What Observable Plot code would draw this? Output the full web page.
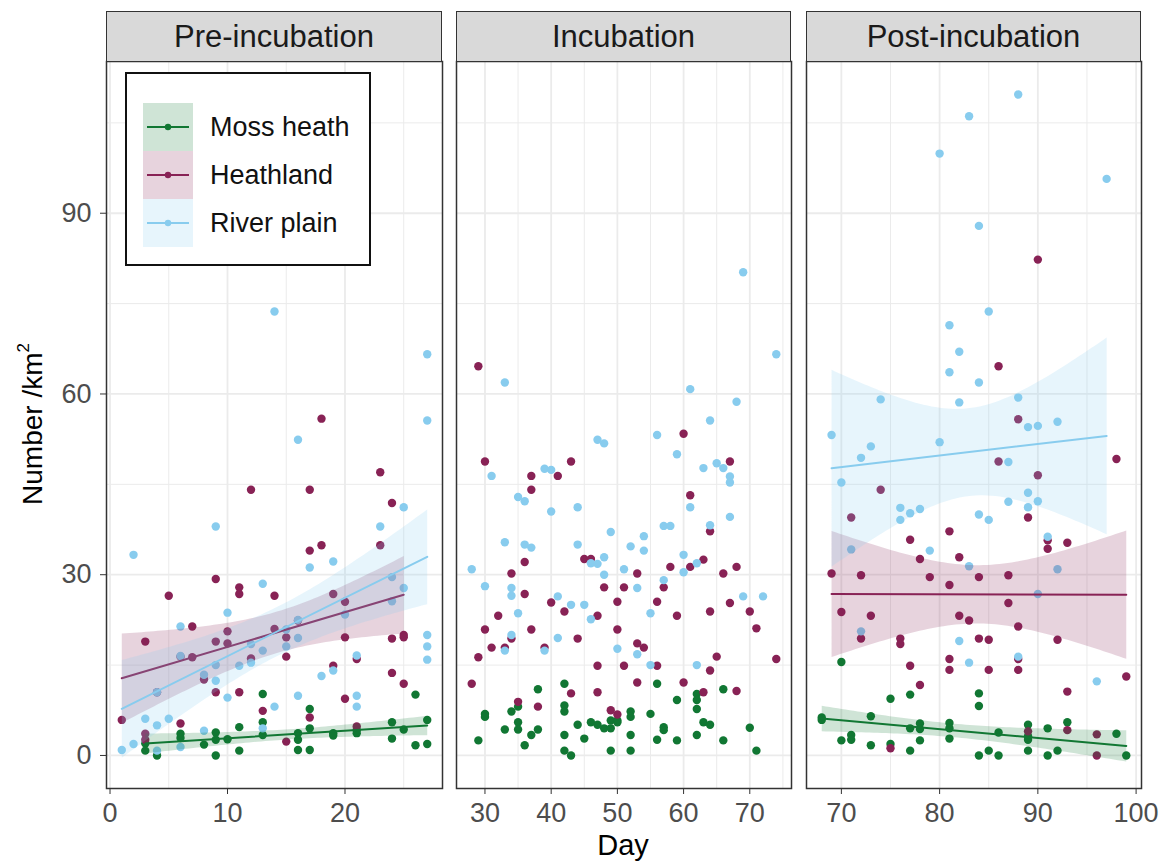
<!DOCTYPE html>
<html>
<head>
<meta charset="utf-8">
<script src="https://cdn.jsdelivr.net/npm/d3@7"></script>
<script src="https://cdn.jsdelivr.net/npm/@observablehq/plot@0.6"></script>
<style>
  body { margin: 0; background: #fff; font-family: "Liberation Sans", Arial, sans-serif; }
  #chart { position: relative; width: 1168px; height: 861px; overflow: hidden; }
  .strip { position: absolute; box-sizing: border-box; top: 11px; height: 51px; background: #d9d9d9;
           border: 1.5px solid #333; font-size: 31px; color: #1a1a1a;
           display: flex; align-items: center; justify-content: center; }
  .panel { position: absolute; top: 60px; }
  .ytitle { position: absolute; left: 33px; top: 424px; transform: translate(-50%, -50%) rotate(-90deg);
            font-size: 28px; color: #000; white-space: nowrap; }
  .ytitle sup { font-size: 17px; vertical-align: 0.75em; line-height: 0; }
  .xtitle { position: absolute; left: 623px; top: 845px; transform: translate(-50%, -50%);
            font-size: 29px; color: #000; }
  .legend { position: absolute; left: 125px; top: 72px; }
</style>
</head>
<body>
<div id="chart"></div>
<script>
// Habitat groups and their colours
const groups = ["Moss heath", "Heathland", "River plain"];
const groupColors = ["#117733", "#882255", "#88CCEE"];

// Survey counts per period and habitat: [day, number per km²]
const preMoss = [[13,10.2],[26,10.1],[17,7.7],[13,5.5],[27,5.9],[11,4.7],[17,4.5],[24,5.5],[21,4.2],[21,3.7],[6,3.6],[6,2.9],[9,3.8],[9,2.6],[10,2.7],[16,3.7],[16,2.6],[19,3.7],[19,3.3],[25,4.3],[3,2.0],[3,0.8],[4,0.0],[8,1.8],[9,0.0],[11,0.8],[16,0.9],[17,0.9],[24,2.8],[26,1.7],[27,1.9],[13,3.4]];
const preHeath = [[18,55.9],[23,47.0],[12,44.1],[17,44.1],[24,41.9],[18,34.9],[17,34.0],[23,34.9],[9,29.3],[5,26.5],[11,27.9],[11,26.8],[14,26.5],[19,26.8],[20,25.5],[7,21.4],[10,20.6],[10,18.6],[9,18.9],[3,18.9],[14,21.0],[15,19.6],[16,22.4],[20,19.6],[24,19.4],[25,20.0],[25,19.6],[7,16.3],[6,16.4],[12,16.1],[15,16.4],[21,16.0],[8,12.6],[19,14.9],[24,13.7],[25,11.9],[4,10.5],[9,10.5],[11,10.5],[20,9.4],[1,5.9],[13,7.4],[17,6.3],[6,5.3],[3,3.6],[15,2.3],[21,4.8],[3,2.6]];
const preRiver = [[14,73.7],[27,66.6],[16,52.4],[27,55.6],[25,41.2],[9,38.0],[23,38.0],[2,33.3],[19,32.2],[17,31.2],[13,28.5],[24,29.6],[24,25.6],[10,23.7],[6,21.4],[25,27.8],[20,23.4],[16,22.5],[15,20.9],[16,19.5],[27,20.0],[27,18.1],[27,15.9],[12,18.5],[13,17.4],[15,18.1],[6,16.5],[21,16.6],[9,15.0],[11,14.9],[12,15.4],[8,13.4],[9,12.4],[18,13.2],[19,14.1],[4,10.5],[10,9.6],[16,9.9],[21,9.9],[21,8.1],[14,8.1],[3,6.1],[5,6.1],[4,5.0],[8,4.1],[13,4.5],[1,0.9],[2,1.9],[4,0.8],[6,1.4]];

const incMoss = [[42,11.9],[38,11.0],[56,11.9],[66,11.0],[62,10.2],[62,9.2],[59,9.2],[62,7.7],[42,8.3],[42,7.3],[30,6.9],[30,6.4],[34,7.3],[35,8.1],[52,7.3],[52,6.4],[55,6.9],[35,5.5],[44,5.1],[46,5.5],[47,5.1],[48,4.5],[49,5.8],[49,4.5],[50,5.8],[50,5.5],[33,4.3],[35,4.3],[37,3.4],[38,4.3],[57,4.7],[57,4.2],[63,5.5],[64,5.1],[70,4.6],[29,2.5],[36,1.7],[42,3.4],[45,2.8],[52,3.4],[56,2.6],[59,2.5],[62,3.4],[66,2.5],[42,0.8],[43,0.0],[49,0.8],[52,0.8],[71,0.8]];
const incHeath = [[29,64.6],[60,53.4],[30,48.8],[43,48.8],[67,48.8],[37,46.4],[41,46.4],[37,44.1],[61,43.2],[64,37.2],[36,32.1],[45,32.6],[46,32.6],[58,31.3],[61,31.3],[63,32.5],[68,31.3],[34,30.2],[53,30.2],[66,30.2],[48,27.9],[51,27.9],[57,27.9],[36,26.8],[40,25.4],[42,23.9],[50,25.5],[56,25.5],[67,25.3],[32,23.2],[47,23.2],[59,23.2],[64,23.9],[70,23.9],[30,20.9],[37,20.9],[50,20.9],[71,21.1],[34,19.4],[44,19.4],[31,17.9],[33,17.9],[39,17.9],[53,18.6],[54,17.9],[29,16.3],[65,16.4],[74,16.0],[47,14.9],[51,14.9],[56,14.9],[64,14.1],[28,11.9],[53,12.1],[60,12.1],[43,10.3],[47,10.5],[63,10.5],[68,10.7],[35,8.9],[38,8.1],[49,7.5],[50,6.8]];
const incRiver = [[69,80.2],[74,66.6],[33,61.9],[61,60.8],[68,58.7],[64,55.6],[56,53.2],[47,52.4],[48,51.8],[59,50.0],[63,47.7],[65,48.5],[66,47.7],[67,46.3],[67,45.3],[31,46.4],[39,47.6],[40,47.4],[35,42.9],[36,42.2],[40,40.5],[44,41.2],[61,41.2],[67,39.6],[57,38.1],[58,38.1],[64,38.2],[49,37.1],[54,36.4],[33,35.4],[36,35.0],[37,34.5],[44,35.0],[52,34.7],[54,34.0],[60,33.3],[48,32.9],[46,31.9],[47,31.8],[62,31.9],[28,30.9],[51,30.9],[60,30.4],[48,30.0],[57,29.1],[30,28.1],[34,27.8],[34,26.5],[35,23.6],[41,26.4],[43,25.0],[45,25.0],[46,22.6],[53,27.8],[55,23.6],[69,26.4],[72,26.4],[34,20.0],[41,19.5],[33,17.4],[39,17.4],[50,17.7],[53,16.8],[55,15.0],[62,15.0]];

const postMoss = [[70,15.5],[75,9.4],[77,10.1],[84,10.3],[84,8.2],[68,6.3],[68,5.9],[73,6.5],[77,4.5],[78,5.3],[78,4.4],[81,5.4],[81,4.5],[86,3.8],[89,5.1],[89,3.2],[89,2.6],[91,4.5],[93,5.5],[98,3.6],[70,2.5],[71,3.4],[71,2.6],[73,1.7],[75,1.9],[77,0.8],[78,2.5],[81,2.8],[84,0.0],[85,0.8],[86,0.0],[89,0.8],[91,0.0],[92,0.8],[99,0.0]];
const postHeath = [[90,82.3],[86,64.6],[88,55.8],[98,49.2],[86,48.8],[90,46.5],[74,44.1],[71,39.5],[89,39.5],[77,35.8],[81,37.2],[78,32.6],[82,32.9],[91,35.7],[91,34.3],[93,35.3],[69,30.2],[72,29.9],[79,29.6],[84,29.6],[87,29.9],[81,28.3],[70,23.8],[73,23.2],[82,23.2],[83,22.4],[87,25.3],[88,21.4],[72,19.4],[76,19.4],[76,18.5],[84,19.4],[85,19.2],[92,19.2],[81,16.0],[81,14.2],[77,14.9],[85,14.2],[88,16.0],[88,14.2],[99,13.1],[78,11.7],[93,10.6],[89,4.0],[93,4.2],[96,3.5],[75,1.2],[96,0.0]];
const postRiver = [[88,109.7],[83,106.1],[80,99.9],[97,95.7],[84,87.9],[85,73.7],[81,71.4],[82,67.0],[81,63.6],[84,61.9],[82,58.6],[88,59.4],[74,59.1],[69,53.2],[80,52.0],[73,51.3],[72,49.4],[87,48.7],[89,54.5],[90,54.7],[92,55.4],[70,45.3],[89,43.6],[87,42.1],[90,42.2],[89,41.2],[76,41.1],[77,40.2],[78,40.9],[76,39.1],[84,40.0],[85,39.1],[79,34.0],[71,34.2],[83,31.4],[91,36.3],[92,30.9],[90,26.8],[72,20.6],[82,19.0],[83,15.4],[88,16.4],[96,12.3]];

// Facet titles and axis tick labels
const periods = ["Pre-incubation", "Incubation", "Post-incubation"];
const preTicks = [0, 10, 20];
const incTicks = [30, 40, 50, 60, 70];
const postTicks = [70, 80, 90, 100];
const yTicks = [0, 30, 60, 90];

const font = '"Liberation Sans", Arial, sans-serif';

// Panel layout: plot-frame left/right edges in page pixels, and whether a fitted line is shown
const layout = [
  {series: [preMoss, preHeath, preRiver], ticks: preTicks, left: 106, right: 442, fit: true, yAxis: true},
  {series: [incMoss, incHeath, incRiver], ticks: incTicks, left: 456, right: 791, fit: false, yAxis: false},
  {series: [postMoss, postHeath, postRiver], ticks: postTicks, left: 806, right: 1141, fit: true, yAxis: false}
];
const frameTop = 61, frameBottom = 788;

// ggplot-style 5% padding around the data range
const pad = ([a, b]) => [a - 0.05 * (b - a), b + 0.05 * (b - a)];

const tidy = series => series.flatMap((pts, i) => pts.map(([day, n]) => ({group: groups[i], day, n})));
const allRows = layout.flatMap(p => tidy(p.series));
const yDomain = pad([0, d3.max(allRows, d => d.n)]);
const yMinor = d3.range(15, yDomain[1], 30);

const chart = document.getElementById("chart");

layout.forEach((p, i) => {
  const rows = tidy(p.series);
  const xDomain = pad(d3.extent(rows, d => d.day));
  const xMinor = d3.range(Math.ceil(xDomain[0] / 5) * 5, xDomain[1], 5).filter(v => !p.ticks.includes(v));
  const marginLeft = p.yAxis ? p.left : 1;
  const marginBottom = 50;
  const svg = Plot.plot({
    width: marginLeft + (p.right - p.left) + 1,
    height: 1 + (frameBottom - frameTop) + marginBottom,
    marginLeft, marginRight: 1, marginTop: 1, marginBottom,
    x: {domain: xDomain},
    y: {domain: yDomain, axis: null},
    color: {domain: groups, range: groupColors},
    style: {fontFamily: font, background: "transparent", overflow: "visible"},
    marks: [
      Plot.gridX(xMinor, {stroke: "#ebebeb", strokeOpacity: 1, strokeWidth: 1}),
      Plot.gridY(yMinor, {stroke: "#ebebeb", strokeOpacity: 1, strokeWidth: 1}),
      Plot.gridX(p.ticks, {stroke: "#ebebeb", strokeOpacity: 1, strokeWidth: 1.8}),
      Plot.gridY(yTicks, {stroke: "#ebebeb", strokeOpacity: 1, strokeWidth: 1.8}),
      Plot.dot(rows, {x: "day", y: "n", fill: "group", r: 4.2}),
      p.fit ? Plot.linearRegressionY(rows, {x: "day", y: "n", stroke: "group", fill: "group",
                                            fillOpacity: 0.2, strokeWidth: 2}) : null,
      Plot.frame({stroke: "#333", strokeWidth: 1.5}),
      Plot.axisX(p.ticks, {tickSize: 6, tickPadding: 8, fontSize: 27, stroke: "#333",
                           fill: "#4d4d4d", label: null}),
      p.yAxis ? Plot.axisY(yTicks, {tickSize: 6, tickPadding: 9, fontSize: 27, stroke: "#333",
                                    fill: "#4d4d4d", label: null}) : null
    ]
  });
  const wrap = document.createElement("div");
  wrap.className = "panel";
  wrap.style.left = (p.left - marginLeft) + "px";
  wrap.appendChild(svg);
  chart.appendChild(wrap);

  const strip = document.createElement("div");
  strip.className = "strip";
  strip.style.left = p.left + "px";
  strip.style.width = (p.right - p.left) + "px";
  strip.textContent = periods[i];
  chart.appendChild(strip);
});

// Axis titles
const yTitle = document.createElement("div");
yTitle.className = "ytitle";
yTitle.innerHTML = "Number /km<sup>2</sup>";
chart.appendChild(yTitle);
const xTitle = document.createElement("div");
xTitle.className = "xtitle";
xTitle.textContent = "Day";
chart.appendChild(xTitle);

// Legend: band swatch with line and point for each habitat
const lg = d3.create("svg").attr("width", 246).attr("height", 194).attr("class", "legend");
lg.append("rect").attr("x", 1).attr("y", 1).attr("width", 244).attr("height", 192)
  .attr("fill", "#fff").attr("stroke", "#111").attr("stroke-width", 2);
groups.forEach((g, i) => {
  const cy = 31 + 48 * i + 24;
  lg.append("rect").attr("x", 18).attr("y", 31 + 48 * i).attr("width", 50).attr("height", 48)
    .attr("fill", groupColors[i]).attr("fill-opacity", 0.2);
  lg.append("line").attr("x1", 22).attr("x2", 64).attr("y1", cy).attr("y2", cy)
    .attr("stroke", groupColors[i]).attr("stroke-width", 2);
  lg.append("circle").attr("cx", 43).attr("cy", cy).attr("r", 3.2).attr("fill", groupColors[i]);
  lg.append("text").attr("x", 85).attr("y", cy).attr("dy", "0.35em")
    .attr("font-family", font).attr("font-size", 27).attr("fill", "#111").text(g);
});
chart.appendChild(lg.node());
</script>
</body>
</html>
